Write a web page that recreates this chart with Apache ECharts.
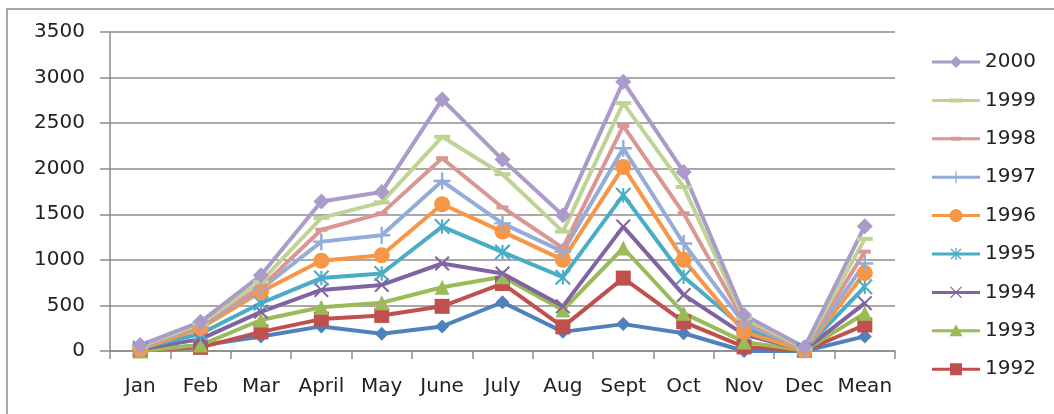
<!DOCTYPE html>
<html>
<head>
<meta charset="utf-8">
<script src="https://cdn.jsdelivr.net/npm/echarts@6/dist/echarts.min.js"></script>
<style>
  html, body { margin: 0; padding: 0; background: #fff; }
  #chart { width: 1054px; height: 414px; }
</style>
</head>
<body>
<div id="chart"></div>
<script>
const categories = ['Jan','Feb','Mar','April','May','June','July','Aug','Sept','Oct','Nov','Dec','Mean'];
const yTicks = [0, 500, 1000, 1500, 2000, 2500, 3000, 3500];

const s1991 = [10, 60, 160, 270, 190, 270, 535, 210, 295, 195, 0, 0, 160];
const s1992 = [5, 40, 210, 350, 390, 490, 740, 265, 800, 320, 45, 5, 285];
const s1993 = [0, 65, 340, 480, 530, 700, 815, 450, 1130, 415, 100, 5, 415];
const s1994 = [20, 130, 430, 670, 725, 960, 850, 490, 1365, 615, 180, 10, 525];
const s1995 = [30, 190, 525, 800, 850, 1365, 1085, 810, 1710, 815, 250, 15, 705];
const s1996 = [20, 250, 650, 990, 1050, 1610, 1310, 1000, 2020, 1000, 210, 5, 855];
const s1997 = [40, 280, 680, 1200, 1270, 1865, 1400, 1090, 2225, 1180, 300, 20, 960];
const s1998 = [50, 290, 700, 1330, 1510, 2115, 1575, 1130, 2470, 1510, 330, 25, 1090];
const s1999 = [50, 300, 760, 1460, 1630, 2350, 1940, 1310, 2720, 1800, 360, 30, 1230];
const s2000 = [65, 320, 830, 1640, 1745, 2760, 2100, 1490, 2955, 1965, 395, 40, 1370];

const legendOrder = ['2000','1999','1998','1997','1996','1995','1994','1993','1992'];

// ---- path helpers (all sub-polygons forced to the same winding) ----
function poly(pts) {
  let a = 0;
  for (let i = 0; i < pts.length; i++) {
    const p = pts[i], q = pts[(i + 1) % pts.length];
    a += p[0] * q[1] - q[0] * p[1];
  }
  if (a < 0) pts = pts.slice().reverse();
  return 'M' + pts.map(p => p[0].toFixed(2) + ',' + p[1].toFixed(2)).join(' L') + ' Z ';
}
function rect(x1, y1, x2, y2) { return poly([[x1, y1], [x2, y1], [x2, y2], [x1, y2]]); }
function bar(x1, y1, x2, y2, t) {
  const dx = x2 - x1, dy = y2 - y1, L = Math.hypot(dx, dy);
  const nx = -dy / L * t / 2, ny = dx / L * t / 2;
  return poly([[x1 + nx, y1 + ny], [x2 + nx, y2 + ny], [x2 - nx, y2 - ny], [x1 - nx, y1 - ny]]);
}
function circ(cx, cy, r) {
  const pts = [];
  for (let i = 0; i < 24; i++) { const a = i / 24 * Math.PI * 2; pts.push([cx + r * Math.cos(a), cy + r * Math.sin(a)]); }
  return poly(pts);
}
function diamond(cx, cy, r) { return poly([[cx, cy - r], [cx + r, cy], [cx, cy + r], [cx - r, cy]]); }
function tri(cx, cy, r) { return poly([[cx, cy - r], [cx + r, cy + r * 0.85], [cx - r, cy + r * 0.85]]); }
function xMark(cx, cy, r, t) { return bar(cx - r, cy - r, cx + r, cy + r, t) + bar(cx + r, cy - r, cx - r, cy + r, t); }
function plusMark(cx, cy, r, t) { return bar(cx, cy - r, cx, cy + r, t) + bar(cx - r, cy, cx + r, cy, t); }

// series marker symbols (box 10x10)
const X_PATH = 'path://' + xMark(5, 5, 5, 1.5);
const STAR_PATH = 'path://' + xMark(5, 5, 5, 1.5) + bar(5, 0, 5, 10, 1.4);
const PLUS_PATH = 'path://' + plusMark(5, 5, 5, 1.4);

// legend icons (box 48x14), line + marker, with tiny corner anchors to fix the bounding box
const W = 48, H = 14, CX = 24, CY = 7;
const anchors = poly([[0, 0], [0.05, 0], [0, 0.05]]) + poly([[48, 14], [47.95, 14], [48, 13.95]]);
const lineBar = rect(0, CY - 1.5, W, CY + 1.5);
const iconFor = {
  '2000': 'path://' + anchors + lineBar + diamond(CX, CY, 6),
  '1999': 'path://' + anchors + lineBar + rect(CX - 7, CY - 2, CX + 7, CY + 2),
  '1998': 'path://' + anchors + lineBar + rect(CX - 5, CY - 2, CX + 5, CY + 2),
  '1997': 'path://' + anchors + lineBar + bar(CX, CY - 6, CX, CY + 6, 1.3),
  '1996': 'path://' + anchors + lineBar + circ(CX, CY, 6.5),
  '1995': 'path://' + anchors + lineBar + xMark(CX, CY, 5, 1.3) + bar(CX, CY - 6, CX, CY + 6, 1.3),
  '1994': 'path://' + anchors + lineBar + xMark(CX, CY, 5.5, 1.2),
  '1993': 'path://' + anchors + lineBar + tri(CX, CY, 6.5),
  '1992': 'path://' + anchors + lineBar + rect(CX - 6, CY - 6, CX + 6, CY + 6)
};

function mk(name, data, color, symbol, size) {
  return {
    name: name,
    type: 'line',
    data: data,
    symbol: symbol,
    symbolSize: size,
    showAllSymbol: true,
    lineStyle: { color: color, width: 4 },
    itemStyle: { color: color },
    emphasis: { disabled: true },
    animation: false
  };
}

const series = [
  mk('1991', s1991, '#4F81BD', 'diamond', 14),
  mk('1992', s1992, '#C0504D', 'rect', 15),
  mk('1993', s1993, '#9BBB59', 'triangle', 15),
  mk('1994', s1994, '#8064A2', X_PATH, 15),
  mk('1995', s1995, '#4BACC6', STAR_PATH, 16),
  mk('1996', s1996, '#F79646', 'circle', 16),
  mk('1997', s1997, '#93ACD8', PLUS_PATH, 17),
  mk('1998', s1998, '#DA9693', 'rect', [12, 4]),
  mk('1999', s1999, '#BDD494', 'rect', [16, 4]),
  mk('2000', s2000, '#AA9BC8', 'diamond', 16)
];

const FONT = 'DejaVu Sans';
const chart = echarts.init(document.getElementById('chart'), null, { renderer: 'canvas' });
chart.setOption({
  animation: false,
  backgroundColor: '#fff',
  textStyle: { fontFamily: FONT },
  graphic: [{
    type: 'rect',
    shape: { x: 7, y: 9, width: 1200, height: 600 },
    style: { fill: 'none', stroke: '#8c8c8c', lineWidth: 1.5 },
    silent: true
  }],
  grid: { left: 110, top: 32, right: 159, bottom: 63, outerBoundsMode: 'none' },
  legend: {
    data: legendOrder.map(n => ({ name: n, icon: iconFor[n] })),
    orient: 'vertical',
    left: 932,
    top: 52,
    padding: 0,
    itemWidth: W,
    itemHeight: H,
    itemGap: 18.4,
    textStyle: { fontFamily: FONT, fontSize: 20, color: '#222', lineHeight: 20 },
    selectedMode: false
  },
  xAxis: {
    type: 'category',
    data: categories,
    boundaryGap: true,
    axisLine: { lineStyle: { color: '#8c8c8c', width: 1.5 } },
    axisTick: { show: true, length: 8, alignWithLabel: false, lineStyle: { color: '#8c8c8c', width: 1.5 } },
    axisLabel: { fontFamily: FONT, fontSize: 20, color: '#222', margin: 26, interval: 0 },
    splitLine: { show: false }
  },
  yAxis: {
    type: 'value',
    min: yTicks[0],
    max: yTicks[yTicks.length - 1],
    interval: yTicks[1] - yTicks[0],
    axisLine: { show: true, lineStyle: { color: '#8c8c8c', width: 1.5 } },
    axisTick: { show: true, length: 10, lineStyle: { color: '#8c8c8c', width: 1.5 } },
    axisLabel: { fontFamily: FONT, fontSize: 20, color: '#222', margin: 25, formatter: v => String(v) },
    splitLine: { show: true, lineStyle: { color: '#8c8c8c', width: 1.5 } }
  },
  series: series
});
</script>
</body>
</html>
